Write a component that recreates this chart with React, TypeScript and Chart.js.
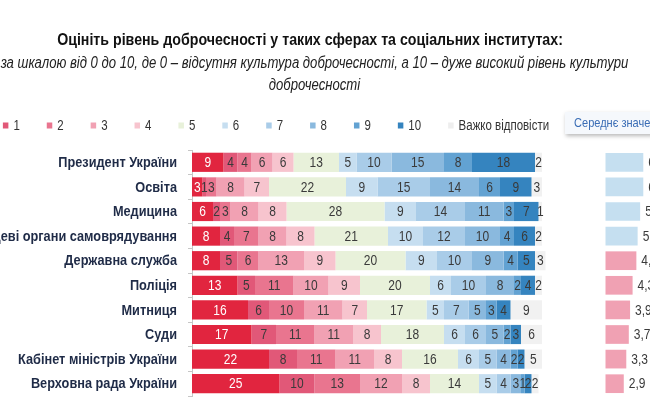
import React, { useEffect, useRef } from 'react';
import { Chart, registerables } from 'chart.js';

Chart.register(...registerables);

// ---------- data ----------
const categories = [
  'Президент України',
  'Освіта',
  'Медицина',
  'Місцеві органи самоврядування',
  'Державна служба',
  'Поліція',
  'Митниця',
  'Суди',
  'Кабінет міністрів України',
  'Верховна рада України',
];
const scaleLabels = ['0', '1', '2', '3', '4', '5', '6', '7', '8', '9', '10', 'Важко відповісти'];
const score0 = [9, 3, 6, 8, 8, 13, 16, 17, 22, 25];
const score1 = [4, 1, 2, 4, 5, 5, 6, 7, 8, 10];
const score2 = [4, 3, 3, 7, 6, 11, 10, 11, 11, 13];
const score3 = [6, 8, 8, 8, 13, 10, 11, 11, 11, 12];
const score4 = [6, 7, 8, 8, 9, 9, 7, 8, 8, 8];
const score5 = [13, 22, 28, 21, 20, 20, 17, 18, 16, 14];
const score6 = [5, 9, 9, 10, 9, 6, 5, 6, 6, 5];
const score7 = [10, 15, 14, 12, 10, 10, 7, 6, 5, 4];
const score8 = [15, 14, 11, 10, 9, 8, 5, 5, 4, 3];
const score9 = [8, 6, 3, 4, 4, 2, 3, 2, 2, 1];
const score10 = [18, 9, 7, 6, 5, 4, 4, 3, 2, 2];
const hardToSay = [2, 3, 1, 2, 3, 2, 9, 6, 5, 2];
const meanScores = [6.0, 6.0, 5.5, 5.1, 4.9, 4.3, 3.9, 3.7, 3.3, 2.9];
const meanHeader = 'Середнє значення';
const titleText = 'Оцініть рівень доброчесності у таких сферах та соціальних інститутах:';
const subtitleLines = [
  'за шкалою від 0 до 10, де 0 – відсутня культура доброчесності, а 10 – дуже високий рівень культури',
  'доброчесності',
];

const series = [score0, score1, score2, score3, score4, score5, score6, score7, score8, score9, score10, hardToSay];

// ---------- styles ----------
const FONT = "'Liberation Sans', Arial, sans-serif";
const NARROW = 0.82; // horizontal squeeze imitating a narrow face
const colors = [
  '#e1253f', '#e15878', '#e9758f', '#f1a1b3', '#f7c4ce',
  '#e8f1da', '#c6def0', '#a9cce8', '#8ab9de', '#62a2d2', '#3584bf', '#f1f1f1',
];
const meanBlue = '#c5dff0';
const meanPink = '#f0a1b3';

const W = 650;
const H = 420;
const AREA_LEFT = 192;
const AREA_TOP = 150;
const AREA_BOTTOM = 396;
const PX_PER_PCT = 3.5;
const MEAN_ZERO = 605.5;
const PX_PER_MEAN = 6.3;

const areaWidth = W - AREA_LEFT;
const xMax = areaWidth / PX_PER_PCT;
const x2Min = -(MEAN_ZERO - AREA_LEFT) / PX_PER_MEAN;
const x2Max = x2Min + areaWidth / PX_PER_MEAN;

const fmtMean = (v: number) => v.toFixed(1).replace('.', ',');

function drawText(ctx: CanvasRenderingContext2D, text: string, x: number, y: number, align: CanvasTextAlign, sx: number) {
  ctx.save();
  ctx.translate(x, y);
  ctx.scale(sx, 1);
  ctx.textAlign = align;
  ctx.textBaseline = 'middle';
  ctx.fillText(text, 0, 0);
  ctx.restore();
}

const decor = {
  id: 'decor',
  beforeDraw(chart: any) {
    const ctx = chart.ctx;
    ctx.save();
    ctx.fillStyle = '#ffffff';
    ctx.fillRect(0, 0, chart.width, chart.height);
    ctx.restore();
  },
  afterDatasetsDraw(chart: any) {
    const ctx = chart.ctx;
    ctx.save();
    ctx.font = `15px ${FONT}`;
    series.forEach((arr, d) => {
      const meta = chart.getDatasetMeta(d);
      meta.data.forEach((bar: any, j: number) => {
        const p = bar.getProps(['x', 'base', 'y'], true);
        ctx.fillStyle = d === 0 ? '#ffffff' : '#3a3a3a';
        drawText(ctx, String(arr[j]), (p.x + p.base) / 2, p.y + 0.5, 'center', 0.8);
      });
    });
    const mm = chart.getDatasetMeta(series.length);
    ctx.fillStyle = '#3a3a3a';
    mm.data.forEach((bar: any, j: number) => {
      const p = bar.getProps(['x', 'y'], true);
      drawText(ctx, fmtMean(meanScores[j]), p.x + 5, p.y + 0.5, 'left', 0.8);
    });
    ctx.restore();
  },
  afterDraw(chart: any) {
    const ctx = chart.ctx;
    ctx.save();
    // category labels
    const ys = chart.scales.y;
    ctx.fillStyle = '#1f2b47';
    ctx.font = `bold 15px ${FONT}`;
    categories.forEach((c, i) => {
      drawText(ctx, c, AREA_LEFT - 15, ys.getPixelForValue(i) + 0.5, 'right', 0.85);
    });

    // title
    ctx.fillStyle = '#111111';
    ctx.font = `bold 17px ${FONT}`;
    drawText(ctx, titleText, 310, 40.5, 'center', 0.835);
    ctx.fillStyle = '#222222';
    ctx.font = `italic 16px ${FONT}`;
    subtitleLines.forEach((s, i) => drawText(ctx, s, 314.5, 63.5 + i * 22.5, 'center', 0.82));

    // legend
    ctx.font = `14px ${FONT}`;
    let lx = -41;
    const ly = 125.5;
    scaleLabels.forEach((lab, i) => {
      ctx.fillStyle = colors[i] === '#f1f1f1' ? '#eeeeee' : colors[i];
      ctx.fillRect(lx, ly - 3, 5.5, 6);
      ctx.fillStyle = '#333333';
      drawText(ctx, lab, lx + 10.5, ly + 0.5, 'left', NARROW);
      lx += 10.5 + ctx.measureText(lab).width * NARROW + 27;
    });

    // mean header box
    ctx.save();
    ctx.shadowColor = 'rgba(0,0,0,0.28)';
    ctx.shadowBlur = 4;
    ctx.shadowOffsetY = 2;
    ctx.shadowOffsetX = 1;
    ctx.fillStyle = '#f5f8fc';
    ctx.fillRect(565, 112, 100, 22);
    ctx.restore();
    ctx.fillStyle = '#3a6db5';
    ctx.font = `13px ${FONT}`;
    drawText(ctx, meanHeader, 574, 123.5, 'left', 0.85);
    ctx.restore();
  },
};

export default function App() {
  const ref = useRef<HTMLCanvasElement>(null);
  useEffect(() => {
    const canvas = ref.current!;
    const datasets: any[] = series.map((data, i) => ({
      label: scaleLabels[i],
      data,
      backgroundColor: colors[i],
      borderWidth: 0,
      xAxisID: 'x',
      stack: 'dist',
      barPercentage: 0.78,
      categoryPercentage: 1,
    }));
    datasets.push({
      label: meanHeader,
      data: meanScores,
      backgroundColor: meanScores.map((v) => (v >= 5 ? meanBlue : meanPink)),
      borderWidth: 0,
      xAxisID: 'x2',
      stack: 'mean',
      grouped: false,
      barPercentage: 0.76,
      categoryPercentage: 1,
    });
    const chart = new Chart(canvas, {
      type: 'bar',
      data: { labels: categories, datasets },
      options: {
        indexAxis: 'y',
        responsive: false,
        animation: false,
        devicePixelRatio: 1,
        layout: { padding: { top: AREA_TOP, bottom: H - AREA_BOTTOM, left: 0, right: 0 } },
        plugins: {
          legend: { display: false },
          title: { display: false },
          tooltip: { enabled: false },
        },
        scales: {
          x: { display: false, stacked: true, min: 0, max: xMax },
          x2: { display: false, min: x2Min, max: x2Max, position: 'bottom' },
          y: {
            type: 'category',
            offset: true,
            grid: {
              display: true,
              offset: true,
              drawOnChartArea: false,
              drawTicks: true,
              tickLength: 4,
              color: '#c6c6c6',
            },
            border: { display: true, color: '#c6c6c6' },
            ticks: { display: false },
            afterFit: (s: any) => {
              s.width = AREA_LEFT;
            },
          },
        },
      } as any,
      plugins: [decor],
    });
    return () => chart.destroy();
  }, []);
  return (
    <div style={{ position: 'absolute', left: 0, top: 0, width: W, height: H, overflow: 'hidden', background: '#fff' }}>
      <canvas ref={ref} width={W} height={H} style={{ display: 'block', width: W, height: H }} />
    </div>
  );
}
